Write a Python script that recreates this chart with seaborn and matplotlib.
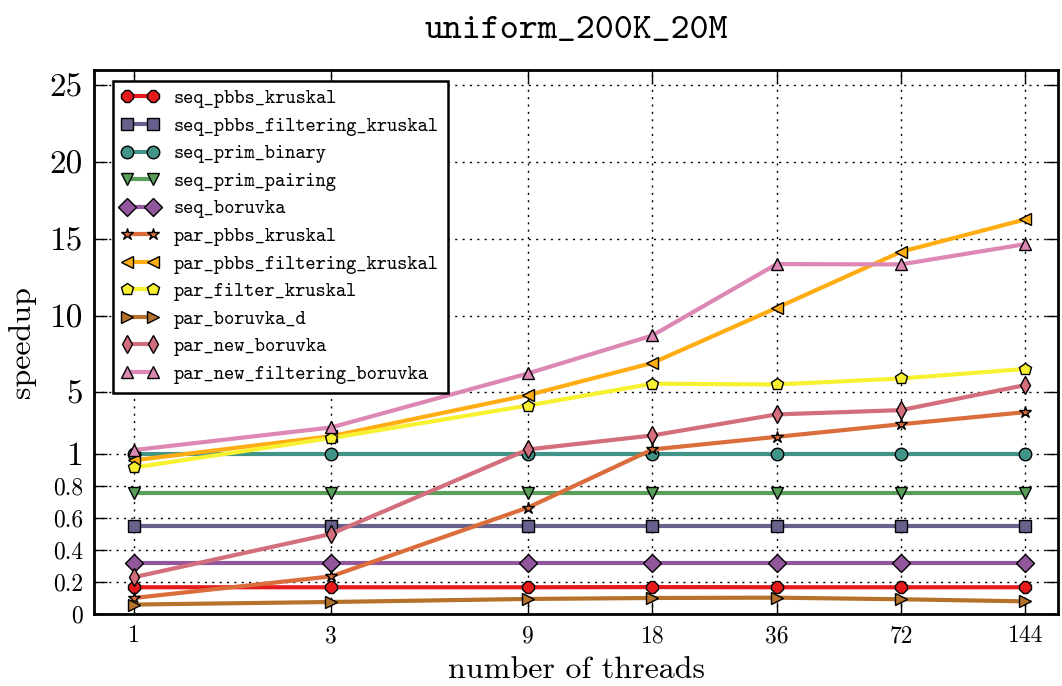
import numpy as np
import matplotlib
matplotlib.use("Agg")
import matplotlib.pyplot as plt
import seaborn as sns
from matplotlib.colors import LinearSegmentedColormap
from matplotlib.ticker import FixedLocator, FixedFormatter, NullLocator

# ---------------------------------------------------------------- data
threads = [1, 3, 9, 18, 36, 72, 144]

seq_pbbs_kruskal = [0.167, 0.167, 0.167, 0.168, 0.167, 0.167, 0.167]
seq_pbbs_filtering_kruskal = [0.55, 0.55, 0.55, 0.55, 0.55, 0.55, 0.55]
seq_prim_binary = [1.0, 1.0, 1.0, 1.0, 1.0, 1.0, 1.0]
seq_prim_pairing = [0.753, 0.753, 0.753, 0.753, 0.753, 0.753, 0.753]
seq_boruvka = [0.316, 0.316, 0.316, 0.316, 0.316, 0.316, 0.316]
par_pbbs_kruskal = [0.10, 0.235, 0.665, 1.29, 2.11, 2.93, 3.72]
par_pbbs_filtering_kruskal = [0.96, 2.15, 4.83, 6.92, 10.51, 14.16, 16.27]
par_filter_kruskal = [0.915, 2.03, 4.15, 5.57, 5.52, 5.91, 6.53]
par_boruvka_d = [0.059, 0.075, 0.094, 0.100, 0.102, 0.092, 0.079]
par_new_boruvka = [0.23, 0.50, 1.29, 2.20, 3.57, 3.85, 5.48]
par_new_filtering_boruvka = [1.25, 2.72, 6.24, 8.71, 13.36, 13.34, 14.66]

series_names = [
    "seq_pbbs_kruskal", "seq_pbbs_filtering_kruskal", "seq_prim_binary",
    "seq_prim_pairing", "seq_boruvka", "par_pbbs_kruskal",
    "par_pbbs_filtering_kruskal", "par_filter_kruskal", "par_boruvka_d",
    "par_new_boruvka", "par_new_filtering_boruvka",
]
series_values = [
    seq_pbbs_kruskal, seq_pbbs_filtering_kruskal, seq_prim_binary,
    seq_prim_pairing, seq_boruvka, par_pbbs_kruskal,
    par_pbbs_filtering_kruskal, par_filter_kruskal, par_boruvka_d,
    par_new_boruvka, par_new_filtering_boruvka,
]
markers = ["8", "s", "o", "v", "D", "*", "<", "p", ">", "d", "^"]

y_ticks = [0, 0.2, 0.4, 0.6, 0.8, 1, 5, 10, 15, 20, 25]
y_tick_labels = ["0", "0.2", "0.4", "0.6", "0.8", "1", "5", "10", "15", "20", "25"]
x_tick_labels = ["1", "3", "9", "18", "36", "72", "144"]

# ---------------------------------------------------------------- style
# colours: a smooth Set1 gradient sampled at even steps
set1 = sns.color_palette("Set1", 9)
grad = LinearSegmentedColormap.from_list("set1_smooth", set1)
colors = [grad(i / 11) for i in range(len(series_names))]

SERIF = "cmr10"
MONO = "cmtt10"
plt.rcParams["axes.formatter.use_mathtext"] = True

# y axis: linear on [0, 1], compressed above 1
K = 0.0959


def y_fwd(y):
    y = np.asarray(y, dtype=float)
    return np.where(y <= 1, y, 1 + (y - 1) * K)


def y_inv(t):
    t = np.asarray(t, dtype=float)
    return np.where(t <= 1, t, 1 + (t - 1) / K)


fig = plt.figure(figsize=(10.62, 6.86), dpi=100)
ax = fig.add_axes([94 / 1062, 72 / 686, 964 / 1062, 544 / 686])

for name, vals, col, mk in zip(series_names, series_values, colors, markers):
    sns.lineplot(
        x=threads, y=vals, ax=ax, color=col, lw=3.0,
        marker=mk, markersize=9, markeredgecolor="black",
        markeredgewidth=1.0, markerfacecolor=col,
        errorbar=None, label=name, legend=False,
    )

ax.set_xscale("log")
ax.set_yscale("function", functions=(y_fwd, y_inv))
ax.set_xlim(0.8, 144 * 1.2)
ax.set_ylim(0, 26)

ax.xaxis.set_major_locator(FixedLocator(threads))
ax.xaxis.set_major_formatter(FixedFormatter(x_tick_labels))
ax.xaxis.set_minor_locator(NullLocator())
ax.yaxis.set_major_locator(FixedLocator(y_ticks))
ax.yaxis.set_major_formatter(FixedFormatter(y_tick_labels))
ax.yaxis.set_minor_locator(NullLocator())

ax.tick_params(axis="both", which="major", direction="in", length=9,
               width=1.0, top=True, right=True, color="black")
ax.tick_params(axis="x", pad=8)
ax.tick_params(axis="y", pad=8)

for lbl in ax.get_xticklabels():
    lbl.set_fontfamily(SERIF)
    lbl.set_fontsize(17)
for lbl, v in zip(ax.get_yticklabels(), y_ticks):
    lbl.set_fontfamily(SERIF)
    lbl.set_fontsize(24 if v >= 1 else 17)

ax.grid(True, which="major", color="black", lw=1.0, linestyle=(0, (1.5, 3.8)))
ax.set_axisbelow(True)
for sp in ax.spines.values():
    sp.set_linewidth(2.0)
    sp.set_color("black")

ax.set_xlabel("number of threads", family=SERIF, fontsize=23)
ax.set_ylabel("speedup", family=SERIF, fontsize=23)
ax.xaxis.set_label_coords(0.5, -0.103)
ax.xaxis.label.set_verticalalignment("center")
ax.yaxis.set_label_coords(-0.0747, 0.5)
ax.yaxis.label.set_verticalalignment("center")

ax.set_title("uniform_200K_20M", family=MONO, fontsize=26, pad=23)

handles, labels = ax.get_legend_handles_labels()
leg = ax.legend(
    handles, labels, loc="upper left", bbox_to_anchor=(0.0194, 0.980),
    borderaxespad=0.0, numpoints=2, prop={"family": MONO, "size": 14},
    handlelength=1.9, handletextpad=0.8, labelspacing=0.46, borderpad=0.45,
    fancybox=False, framealpha=1.0, edgecolor="black",
)
leg.get_frame().set_linewidth(1.8)

fig.savefig("out.png", dpi=100)
